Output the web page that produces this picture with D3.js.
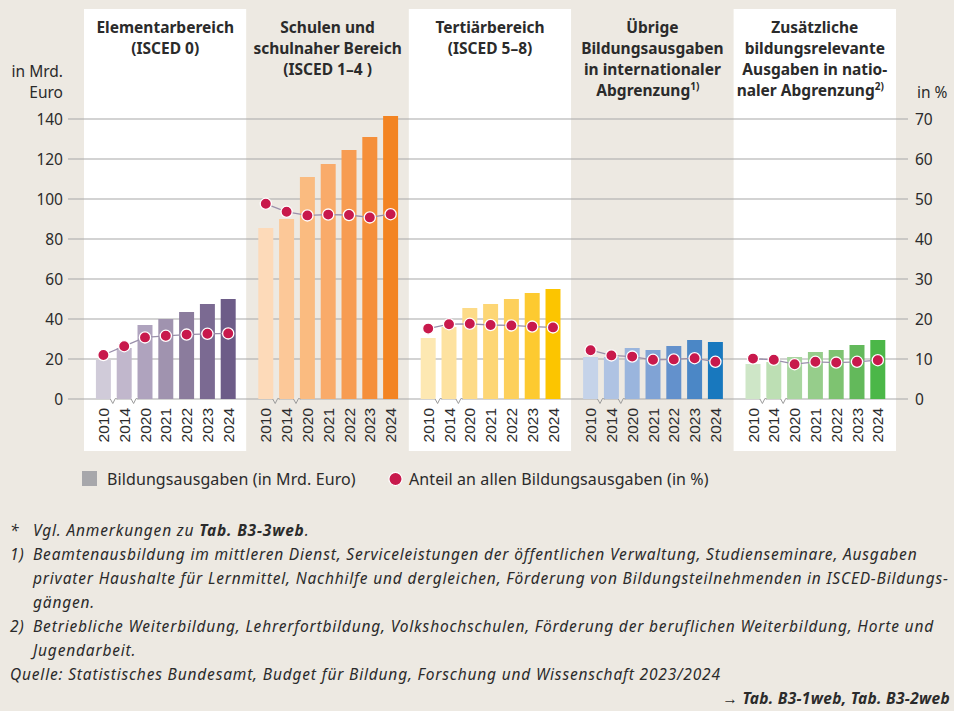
<!DOCTYPE html>
<html lang="de">
<head>
  <meta charset="UTF-8">
  <title>Bildungsausgaben nach Bereichen</title>
  <style>
    * { margin: 0; padding: 0; box-sizing: border-box; }
    body { background-color: #ede9e2; font-family: 'Noto Sans', 'Open Sans', sans-serif; }
    svg { display: block; }
    .tick-label { font-size: 15.5px; fill: #2b2b2b; }
    .legend-label { font-size: 16px; letter-spacing: 0.1px; fill: #2b2b2b; }
    .title { font-size: 15.5px; font-weight: 700; fill: #2b2b2b; text-anchor: middle; }
    .year { font-family: 'Liberation Sans', Arial, sans-serif; font-size: 15.5px; fill: #2b2b2b; }
    .note { font-size: 15.5px; letter-spacing: 0.82px; font-style: italic; fill: #2b2b2b; }
  </style>
  <script src="https://cdn.jsdelivr.net/npm/d3@7/dist/d3.min.js"></script>
</head>
<body>
  <svg id="chart" width="954" height="711"></svg>

  <script>
    // --- data ---
    const years = ['2010', '2014', '2020', '2021', '2022', '2023', '2024'];

    const sectors = ['elementar', 'schulen', 'tertiaer', 'uebrige', 'zusaetzlich'];

    const sectorTitles = [
      ['Elementarbereich', '(ISCED 0)'],
      ['Schulen und', 'schulnaher Bereich', '(ISCED 1–4 )'],
      ['Tertiärbereich', '(ISCED 5–8)'],
      ['Übrige', 'Bildungsausgaben', 'in internationaler', 'Abgrenzung|1)'],
      ['Zusätzliche', 'bildungsrelevante', 'Ausgaben in natio-', 'naler Abgrenzung|2)']
    ];

    // Bildungsausgaben in Mrd. Euro
    const spending = [
      [19.5, 25.5, 37, 40, 43.5, 47.5, 50],
      [85.5, 90, 111, 117.5, 124.5, 131, 141.5],
      [30.5, 36, 45.5, 47.5, 50, 53, 55],
      [21, 21, 25.5, 24.5, 26.5, 29.5, 28.5],
      [17.5, 18.5, 21, 23.5, 24.5, 27, 29.5]
    ];

    // Anteil an allen Bildungsausgaben in %
    const share = [
      [11, 13.2, 15.4, 15.8, 16.1, 16.3, 16.4],
      [48.8, 46.8, 45.9, 46.1, 46, 45.4, 46.2],
      [17.6, 18.7, 18.8, 18.5, 18.4, 18.1, 17.9],
      [12.2, 10.9, 10.6, 9.8, 9.9, 10.2, 9.3],
      [10.1, 9.8, 8.7, 9.3, 9.1, 9.3, 9.7]
    ];

    const leftTicks = [0, 20, 40, 60, 80, 100, 120, 140];
    const rightTicks = [0, 10, 20, 30, 40, 50, 60, 70];

    const barColors = [
      ['#d0cbd9', '#c1b7cc', '#afa3be', '#a093af', '#8b7c9d', '#7b6a92', '#6d5c88'],
      ['#fddab9', '#fcc898', '#fabb80', '#f9ab6a', '#f79c52', '#f58f3a', '#f38422'],
      ['#fde8b2', '#fde2a0', '#fddb88', '#fdd675', '#fdd05c', '#fdca30', '#fcc500'],
      ['#c5d3e9', '#afc3e3', '#9ab5dd', '#80a3d5', '#6391cc', '#4b87c6', '#1878be'],
      ['#cee6c7', '#bddfb4', '#a9d6a0', '#96cd8b', '#7ec371', '#63b95b', '#4bb748']
    ];

    const panelFills = ['#ffffff', '#ede9e2', '#ffffff', '#ede9e2', '#ffffff'];

    // --- layout ---
    const svg = d3.select('#chart');
    const bg = '#ede9e2';
    const plotTop = 119, base = 399;

    svg.append('rect').attr('width', 954).attr('height', 711).attr('fill', bg);

    const xPanel = d3.scaleBand().domain(sectors).range([84, 896]).padding(0);
    const yLeft = d3.scaleLinear().domain([0, 140]).range([base, plotTop]);
    const yRight = d3.scaleLinear().domain([0, 70]).range([base, plotTop]);

    // panels
    svg.append('g').selectAll('rect')
      .data(sectors)
      .join('rect')
      .attr('x', d => xPanel(d))
      .attr('y', 9)
      .attr('width', xPanel.bandwidth())
      .attr('height', 442)
      .attr('fill', (d, i) => panelFills[i]);

    // gridlines
    svg.append('g').selectAll('line')
      .data(leftTicks)
      .join('line')
      .attr('x1', 68).attr('x2', 908)
      .attr('y1', d => yLeft(d)).attr('y2', d => yLeft(d))
      .attr('stroke', '#a8a8a8').attr('stroke-width', 1.2);

    // axes (labels only)
    const axL = svg.append('g').attr('transform', 'translate(63,0)')
      .call(d3.axisLeft(yLeft).tickValues(leftTicks).tickSize(0).tickPadding(0));
    const axR = svg.append('g').attr('transform', 'translate(915,0)')
      .call(d3.axisRight(yRight).tickValues(rightTicks).tickSize(0).tickPadding(0));
    [axL, axR].forEach(ax => {
      ax.select('.domain').remove();
      ax.selectAll('text').attr('class', 'tick-label').attr('dy', '0.36em')
        .style('font-family', "'Noto Sans', sans-serif");
    });

    svg.append('text').attr('class', 'tick-label').attr('x', 63).attr('y', 77)
      .attr('text-anchor', 'end').text('in Mrd.');
    svg.append('text').attr('class', 'tick-label').attr('x', 63).attr('y', 98)
      .attr('text-anchor', 'end').text('Euro');
    svg.append('text').attr('class', 'tick-label').attr('x', 917).attr('y', 98).text('in %');

    // titles
    sectors.forEach((s, i) => {
      const cx = xPanel(s) + xPanel.bandwidth() / 2;
      const t = svg.append('text').attr('class', 'title');
      sectorTitles[i].forEach((line, j) => {
        const [main, sup] = line.split('|');
        const ts = t.append('tspan').attr('x', cx).attr('y', 33 + j * 21).text(main);
        if (sup) {
          const sp = t.append('tspan').attr('dy', -6).style('font-size', '10px').text(sup);
          // keep the main word centred with its superscript
          ts.attr('x', cx - sp.node().getComputedTextLength() / 2);
        }
      });
    });

    // bars, dots, year labels per panel
    sectors.forEach((s, i) => {
      const x0 = xPanel(s);
      const xb = d3.scaleBand().domain(years)
        .range([x0 + 9, x0 + 154.6]).paddingInner(0.28).paddingOuter(0.14);
      const g = svg.append('g');

      g.selectAll('rect')
        .data(years)
        .join('rect')
        .attr('x', d => xb(d))
        .attr('y', (d, k) => yLeft(spending[i][k]))
        .attr('width', xb.bandwidth())
        .attr('height', (d, k) => base - yLeft(spending[i][k]))
        .attr('fill', (d, k) => barColors[i][k]);

      // axis breaks between 2010|2014 and 2014|2020
      [0, 1].forEach(k => {
        const bx = (xb(years[k]) + xb.bandwidth() + xb(years[k + 1])) / 2;
        g.append('rect').attr('x', bx - 3).attr('y', base - 1.5).attr('width', 6).attr('height', 3)
          .attr('fill', panelFills[i]);
        g.append('path')
          .attr('d', `M${bx - 3.5},${base} L${bx - 1},${base + 4.5} L${bx + 1.5},${base - 0.5} L${bx + 3.5},${base}`)
          .attr('fill', 'none').attr('stroke', '#9b9b9b').attr('stroke-width', 1);
      });

      const pts = years.map((d, k) => [xb(d) + xb.bandwidth() / 2, yRight(share[i][k])]);
      g.append('path')
        .attr('d', d3.line()(pts))
        .attr('fill', 'none').attr('stroke', '#9a90ab').attr('stroke-width', 1.3);

      g.selectAll('circle')
        .data(pts)
        .join('circle')
        .attr('cx', d => d[0]).attr('cy', d => d[1])
        .attr('r', 5.6)
        .attr('fill', '#c8194c').attr('stroke', '#ffffff').attr('stroke-width', 1.3);

      g.selectAll('text.year')
        .data(years)
        .join('text')
        .attr('class', 'year')
        .attr('text-anchor', 'end')
        .attr('transform', d => `translate(${xb(d) + xb.bandwidth() / 2 + 5.5},408) rotate(-90)`)
        .text(d => d);
    });

    // legend
    const leg = svg.append('g');
    leg.append('rect').attr('x', 82).attr('y', 471).attr('width', 15).attr('height', 15).attr('fill', '#a7a7ab');
    leg.append('text').attr('class', 'legend-label').attr('x', 107).attr('y', 485)
      .text('Bildungsausgaben (in Mrd. Euro)');
    leg.append('circle').attr('cx', 395.5).attr('cy', 479).attr('r', 6.6)
      .attr('fill', '#c8194c').attr('stroke', '#ffffff').attr('stroke-width', 1.2);
    leg.append('text').attr('class', 'legend-label').attr('x', 409).attr('y', 485)
      .text('Anteil an allen Bildungsausgaben (in %)');

    // notes
    const notes = [
      { x: 10, y: 536, parts: [['*', 0]] },
      { x: 33, y: 536, parts: [['Vgl. Anmerkungen zu ', 0], ['Tab. B3-3web', 1], ['.', 0]] },
      { x: 10, y: 560, parts: [['1)', 0]] },
      { x: 33, y: 560, parts: [['Beamtenausbildung im mittleren Dienst, Serviceleistungen der öffentlichen Verwaltung, Studienseminare, Ausgaben', 0]] },
      { x: 33, y: 584, parts: [['privater Haushalte für Lernmittel, Nachhilfe und dergleichen, Förderung von Bildungsteilnehmenden in ISCED-Bildungs-', 0]] },
      { x: 33, y: 608, parts: [['gängen.', 0]] },
      { x: 10, y: 632, parts: [['2)', 0]] },
      { x: 33, y: 632, parts: [['Betriebliche Weiterbildung, Lehrerfortbildung, Volkshochschulen, Förderung der beruflichen Weiterbildung, Horte und', 0]] },
      { x: 33, y: 656, parts: [['Jugendarbeit.', 0]] },
      { x: 10, y: 680, parts: [['Quelle: Statistisches Bundesamt, Budget für Bildung, Forschung und Wissenschaft 2023/2024', 0]] }
    ];
    notes.forEach(n => {
      const t = svg.append('text').attr('class', 'note').attr('x', n.x).attr('y', n.y);
      n.parts.forEach(([str, bold]) => {
        t.append('tspan').style('font-weight', bold ? 700 : 400).text(str);
      });
    });
    svg.append('text').attr('class', 'note').attr('x', 950).attr('y', 704)
      .attr('text-anchor', 'end').style('font-weight', 700).style('letter-spacing', '0.3px')
      .text('→ Tab. B3-1web, Tab. B3-2web');
  </script>
</body>
</html>
